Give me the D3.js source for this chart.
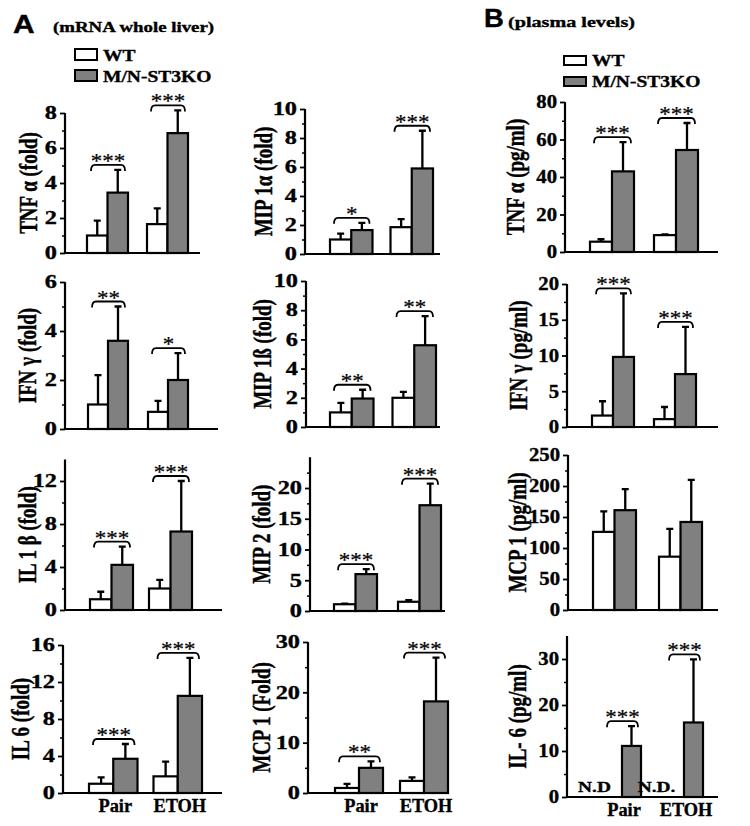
<!DOCTYPE html>
<html>
<head>
<meta charset="utf-8">
<script src="https://cdn.jsdelivr.net/npm/d3@7"></script>
<style>
  body { margin: 0; background: #fff; }
  svg { display: block; }
  text { font-family: "Liberation Serif", "Times New Roman", serif; font-weight: bold; fill: #000; stroke: #000; stroke-width: 0.35px; }
</style>
</head>
<body>
<script>
(function (d3) {
    'use strict';

    // --- data ---
    var groups = ['Pair', 'ETOH'];
    var seriesNames = ['WT', 'M/N-ST3KO'];

    // panel order: A col 1, A col 2, B
    var yLabels = ['TNF α (fold)', 'IFN γ (fold)', 'IL 1 β (fold)', 'IL 6 (fold)',
        'MIP 1α  (fold)', 'MIP 1ß (fold)', 'MIP 2 (fold)', 'MCP 1  (Fold)',
        'TNF α (pg/ml)', 'IFN γ (pg/ml)', 'MCP 1 (pg/ml)', 'IL- 6 (pg/ml)'];

    var wtPair = [1.0, 1.0, 1.0, 1.0, 1.0, 1.0, 1.1, 1.0, 5.5, 1.6, 126, null];
    var wtPairSd = [0.85, 1.2, 0.7, 0.7, 0.4, 0.65, 0.1, 0.8, 1.3, 2.0, 33, null];
    var koPair = [3.45, 3.6, 4.2, 3.7, 1.65, 1.95, 6.0, 5.0, 43, 9.8, 161, 11.1];
    var koPairSd = [1.3, 1.4, 1.7, 1.6, 0.5, 0.6, 0.8, 1.3, 15.6, 8.9, 34, 4.3];
    var wtEtoh = [1.65, 0.7, 2.0, 1.8, 1.85, 2.0, 1.5, 2.4, 9, 1.1, 86, null];
    var wtEtohSd = [0.9, 0.45, 0.8, 1.6, 0.55, 0.4, 0.25, 0.7, 0.4, 1.7, 45, null];
    var koEtoh = [6.85, 2.0, 7.3, 10.5, 5.9, 5.6, 17.2, 18.2, 54.4, 7.4, 142, 16.2];
    var koEtohSd = [1.3, 1.1, 4.7, 4.1, 2.6, 2.0, 3.5, 8.7, 14.4, 6.6, 68, 13.7];

    var starsPair = ['***', '**', '***', '***', '*', '**', '***', '**', '***', '***', '', '***'];
    var starsEtoh = ['***', '*', '***', '***', '***', '**', '***', '***', '***', '***', '', '***'];

    var tickMax = [8, 6, 12, 16, 10, 10, 20, 30, 80, 20, 250, 30];
    var tickStep = [2, 2, 4, 4, 2, 2, 5, 10, 20, 5, 50, 10];
    var axisMax = [8, 6, 14, 16, 10, 10, 25, 30, 80, 20, 250, 35];
    var ndText = ['N.D', 'N.D.'];

    // --- layout (pixels) ---
    var layout = [
        { ax: 65, y0: 253, yt: 113, x0: 87, x1: 188, gap: 19, xEnd: 200, lx: 31, sx: 1.35 },
        { ax: 65, y0: 429, yt: 282, x0: 88, x1: 188, gap: 20, xEnd: 218, lx: 30, sx: 1.35 },
        { ax: 65, y0: 610, yt: 481, x0: 90, x1: 192, gap: 16, xEnd: 222, lx: 30, sx: 1.35 },
        { ax: 63, y0: 793, yt: 645, x0: 89, x1: 202, gap: 16, xEnd: 222, lx: 23, sx: 1.35 },
        { ax: 305, y0: 254, yt: 109, x0: 330, x1: 433, gap: 18, xEnd: 440, lx: 266, sx: 1.35 },
        { ax: 306, y0: 427, yt: 281, x0: 330, x1: 436, gap: 19, xEnd: 440, lx: 265, sx: 1.35 },
        { ax: 310, y0: 611, yt: 488, x0: 334, x1: 441, gap: 21, xEnd: 445, lx: 264, sx: 1.35 },
        { ax: 308, y0: 793, yt: 642, x0: 335, x1: 448, gap: 17, xEnd: 448, lx: 264, sx: 1.35 },
        { ax: 565, y0: 252, yt: 102, x0: 590, x1: 698, gap: 20, xEnd: 718, lx: 518, sx: 1.15 },
        { ax: 567, y0: 427, yt: 284, x0: 592, x1: 696, gap: 20, xEnd: 718, lx: 521, sx: 1.15 },
        { ax: 568, y0: 610, yt: 455, x0: 593, x1: 702, gap: 23, xEnd: 718, lx: 520, sx: 1.15 },
        { ax: 567, y0: 797, yt: 659, x0: 603, x1: 703, gap: 24, xEnd: 718, lx: 520, sx: 1.15 }
    ];
    var bottomRow = [3, 7, 11];
    var SX = 1.3; // the original figure is stretched sideways

    var svg = d3.select('body').append('svg')
        .attr('width', 750)
        .attr('height', 826);

    // tekst helper met horizontale rek
    function label(parent, x, y, s, size, opts) {
        opts = opts || {};
        return parent.append('text')
            .attr('transform', 'translate(' + x + ',' + y + ') scale(' + (opts.sx || SX) + ',1)' + (opts.rot ? ' rotate(' + opts.rot + ')' : ''))
            .attr('text-anchor', opts.anchor || 'start')
            .style('font-size', size + 'px')
            .style('font-weight', opts.weight || 'bold')
            .style('font-family', opts.family || null)
            .style('stroke-width', opts.weight === 'normal' ? '0.2px' : null)
            .text(s);
    }

    // --- headers + legends ---
    label(svg, 13, 33, 'A', 26, { family: '"Liberation Sans", Arial, sans-serif', sx: 1.15 });
    label(svg, 53, 32, '(mRNA whole liver)', 14.5);
    label(svg, 484, 27, 'B', 25, { family: '"Liberation Sans", Arial, sans-serif', sx: 1.1 });
    label(svg, 508, 27, '(plasma levels)', 15.5);

    var legends = [{ x: 75, y: 49, h: 11, tx: 103 }, { x: 564, y: 56, h: 9, tx: 592 }];
    legends.forEach(function (l) {
        seriesNames.forEach(function (s, k) {
            svg.append('rect')
                .attr('x', l.x).attr('y', l.y + k * 21)
                .attr('width', 22).attr('height', l.h)
                .attr('fill', k === 0 ? '#fff' : '#808080')
                .attr('stroke', '#000').attr('stroke-width', 2);
            label(svg, l.tx, l.y + l.h + 1 + k * 21, s, 16, { sx: 1.22 });
        });
    });

    // --- panels ---
    layout.forEach(function (p, i) {
        var y = d3.scaleLinear().domain([0, tickMax[i]]).range([p.y0, p.yt]);
        var bw = (p.x1 - p.x0 - p.gap) / 2;
        var x = d3.scaleBand().domain(groups).range([p.x0, p.x1])
            .paddingInner(p.gap / (bw + p.gap)).paddingOuter(0);
        var xs = d3.scaleBand().domain(seriesNames).range([0, x.bandwidth()]);

        var g = svg.append('g');

        // y-as
        var ticks = d3.range(0, tickMax[i] + 1e-9, tickStep[i]);
        var minor = d3.range(tickStep[i] / 2, axisMax[i], tickStep[i]);
        var yAxis = g.append('g')
            .attr('transform', 'translate(' + p.ax + ',0)')
            .call(d3.axisLeft(y).tickValues(ticks).tickSize(5).tickSizeOuter(0).tickFormat(d3.format('d')));
        yAxis.select('.domain').remove();
        yAxis.selectAll('line').attr('stroke-width', 1.8);
        yAxis.selectAll('text')
            .attr('x', null)
            .attr('transform', 'translate(-8,0) scale(' + p.sx + ',1)')
            .style('font-size', '18px')
            .style('font-family', '"Liberation Serif", serif')
            .style('font-weight', 'bold');
        g.append('g')
            .attr('transform', 'translate(' + p.ax + ',0)')
            .call(d3.axisLeft(y).tickValues(minor).tickSize(3).tickFormat(''))
            .call(function (a) { a.select('.domain').remove(); })
            .selectAll('line').attr('stroke-width', 1.5);

        g.append('line')
            .attr('x1', p.ax).attr('x2', p.ax)
            .attr('y1', y(0) + 1).attr('y2', y(axisMax[i]))
            .attr('stroke', '#000').attr('stroke-width', 2.2);
        g.append('line')
            .attr('x1', p.ax).attr('x2', p.xEnd)
            .attr('y1', y(0)).attr('y2', y(0))
            .attr('stroke', '#000').attr('stroke-width', 2.2);

        label(g, p.lx + 6, (p.y0 + y(axisMax[i])) / 2, yLabels[i], 19, { rot: -90, anchor: 'middle' });

        var rows = [
            { grp: 'Pair', s: 'WT', v: wtPair[i], sd: wtPairSd[i] },
            { grp: 'Pair', s: 'M/N-ST3KO', v: koPair[i], sd: koPairSd[i] },
            { grp: 'ETOH', s: 'WT', v: wtEtoh[i], sd: wtEtohSd[i] },
            { grp: 'ETOH', s: 'M/N-ST3KO', v: koEtoh[i], sd: koEtohSd[i] }
        ].filter(function (d) { return d.v !== null; });

        var cx = function (d) { return x(d.grp) + xs(d.s) + xs.bandwidth() / 2; };

        // error bars (alleen omhoog)
        g.selectAll('.err').data(rows).enter().append('path')
            .attr('d', function (d) {
                var c = cx(d), t = y(d.v + d.sd);
                return 'M' + c + ',' + y(d.v) + 'V' + t + 'M' + (c - 3.5) + ',' + t + 'H' + (c + 3.5);
            })
            .attr('fill', 'none').attr('stroke', '#000').attr('stroke-width', 2.3);

        g.selectAll('.bar').data(rows).enter().append('rect')
            .attr('x', function (d) { return x(d.grp) + xs(d.s); })
            .attr('y', function (d) { return y(d.v); })
            .attr('width', xs.bandwidth())
            .attr('height', function (d) { return y(0) - y(d.v); })
            .attr('fill', function (d) { return d.s === 'WT' ? '#fff' : '#808080'; })
            .attr('stroke', '#000').attr('stroke-width', 2.2);

        // significance brackets
        var stars = [starsPair[i], starsEtoh[i]];
        groups.forEach(function (grp, k) {
            if (!stars[k]) return;
            var top = d3.min(rows.filter(function (d) { return d.grp === grp; }), function (d) { return y(d.v + d.sd); });
            var by = top - 5;
            var a = x(grp) + 4, b = x(grp) + x.bandwidth() - 3;
            g.append('path')
                .attr('d', 'M' + a + ',' + (by + 6) + 'Q' + a + ',' + by + ' ' + (a + 4) + ',' + by +
                    'H' + (b - 4) + 'Q' + b + ',' + by + ' ' + b + ',' + (by + 6))
                .attr('fill', 'none').attr('stroke', '#000').attr('stroke-width', 1.8);
            label(g, (a + b) / 2, by + 3, stars[k], 20, { anchor: 'middle', weight: 'normal', sx: 1.15 });
        });

        // N.D. voor niet gedetecteerd
        if (wtPair[i] === null) {
            groups.forEach(function (grp, k) {
                label(g, x(grp) + xs('WT') + xs.bandwidth() / 2 - 18, y(0) - 5, ndText[k], 15.5, { anchor: 'middle', sx: 1.25 });
            });
        }

        if (bottomRow.indexOf(i) >= 0) {
            groups.forEach(function (grp) {
                label(g, x(grp) + x.bandwidth() / 2 + 2, p.y0 + 19, grp, 18, { anchor: 'middle', sx: 1.02 });
            });
        }
    });

})(d3);
</script>
</body>
</html>
